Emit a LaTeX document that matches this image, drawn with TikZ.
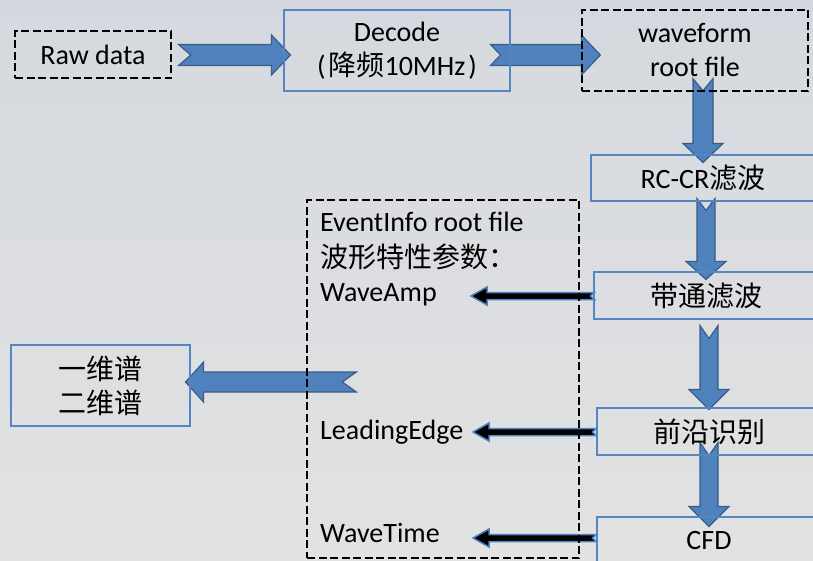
\documentclass[tikz,border=0pt]{standalone}
\usepackage{fontspec}
\setmainfont{Carlito}
\newfontfamily\cjk{Noto Sans CJK SC}
\usetikzlibrary{calc}
\pgfdeclarelayer{bg}
\pgfsetlayers{bg,main}

\definecolor{arrowfill}{RGB}{79,129,189}
\definecolor{arrowedge}{RGB}{56,93,138}
\definecolor{boxedge}{RGB}{84,134,196}
\definecolor{bgtop}{RGB}{213,217,223}
\definecolor{bgbot}{RGB}{226,226,226}

% block arrow with notched tail:
% #1 style, #2 tail, #3 tip, #4 shaft half-width, #5 head half-width, #6 head length, #7 notch depth
\newcommand\blockarrow[7]{%
  \coordinate (ba-h) at ($(#3)!#6!(#2)$);
  \filldraw[#1] ($(#2)!#4!90:(#3)$)
    -- ($(ba-h)!#4!90:(#3)$)
    -- ($(ba-h)!#5!90:(#3)$)
    -- (#3)
    -- ($(ba-h)!#5!-90:(#3)$)
    -- ($(ba-h)!#4!-90:(#3)$)
    -- ($(#2)!#4!-90:(#3)$)
    -- ($(#2)!#7!(#3)$)
    -- cycle;
}

\tikzset{
  txt/.style={font=\fontsize{28}{34}\selectfont, text=black, inner sep=0pt},
  flowbox/.style={txt, draw=boxedge, line width=1.1pt, align=center},
  dashbox/.style={txt, draw=black, line width=1.3pt, dash pattern=on 8pt off 3.5pt, align=center},
  bigarrow/.style={fill=arrowfill, draw=arrowedge, line width=1.2pt, line join=miter},
  thinarrow/.style={fill=black, draw=arrowfill, line width=1.5pt, line join=miter},
}

\begin{document}
\begin{tikzpicture}[x=1pt, y=-1pt]
  \useasboundingbox (0,0) rectangle (813,560);
  \clip (0,0) rectangle (813,560);

  % processing chain
  \node[dashbox, minimum width=156pt, minimum height=47pt] (raw) at (93,54.5) {Raw data};
  \node[flowbox, minimum width=226pt, minimum height=81pt] (decode) at (397,50.5)
    {Decode\\(\kern3pt{\cjk 降频}10MHz\kern3pt)};
  \node[dashbox, minimum width=226pt, minimum height=81pt] (wave) at (695,50.5)
    {waveform\\root file};
  \node[flowbox, minimum width=224pt, minimum height=46pt] (rccr) at (703,178) {RC-CR{\cjk 滤波}};
  \node[flowbox, minimum width=224pt, minimum height=47pt] (band) at (706,295.5) {\cjk 带通滤波};
  \node[flowbox, minimum width=224pt, minimum height=47pt] (lead) at (709,431.5) {\cjk 前沿识别};
  \node[flowbox, minimum width=224pt, minimum height=47pt] (cfd) at (709,540.5) {CFD};

  % output file and its contents
  \node[dashbox, minimum width=272pt, minimum height=358pt] (event) at (443,379) {};
  \node[txt, anchor=base west] (info1) at (320,231) {EventInfo root file};
  \node[txt, anchor=base west] (info2) at (320,267) {\cjk 波形特性参数：};
  \node[txt, anchor=base west] (amp) at (320,301) {WaveAmp};
  \node[txt, anchor=base west] (ledge) at (320,439) {LeadingEdge};
  \node[txt, anchor=base west] (wtime) at (320,542) {WaveTime};

  % spectra
  \node[flowbox, minimum width=179pt, minimum height=81pt] (spec) at (100.5,385.5)
    {\cjk 一维谱\\\cjk 二维谱};

  % arrow end points
  \coordinate (a1s) at ($(raw.east)+(7,0.5)$);
  \coordinate (a1e) at ($(decode.west |- a1s)+(7,0)$);
  \coordinate (a2s) at ($(decode.east |- a1s)+(-20,0)$);
  \coordinate (a2e) at ($(wave.west |- a1s)+(19,0)$);
  \coordinate (a3s) at ($(wave.south)+(8,-13)$);
  \coordinate (a3e) at ($(rccr.north -| a3s)+(0,8)$);
  \coordinate (a4s) at ($(rccr.south)+(3,-3)$);
  \coordinate (a4e) at ($(band.north -| a4s)+(0,8)$);
  \coordinate (a5s) at ($(band.south)+(3,6)$);
  \coordinate (a5e) at ($(lead.north -| a5s)+(0,2)$);
  \coordinate (a6s) at ($(lead.south)+(0,-13)$);
  \coordinate (a6e) at ($(cfd.north -| a6s)+(0,10)$);
  \coordinate (a7s) at ($(event.west)+(50,3)$);
  \coordinate (a7e) at ($(spec.east |- a7s)+(-5,0)$);

  \coordinate (tipcol) at (471,0);
  \coordinate (b1s) at ($(band.west)+(1,0.5)$);
  \coordinate (b1e) at (tipcol |- b1s);
  \coordinate (b2s) at ($(lead.west)+(0,0.5)$);
  \coordinate (b2e) at ($(tipcol |- b2s)+(2,0)$);
  \coordinate (b3s) at ($(cfd.west)+(0,-2.5)$);
  \coordinate (b3e) at ($(tipcol |- b3s)+(2,0)$);

  \begin{pgfonlayer}{bg}
    \shade[top color=bgtop, bottom color=bgbot] (0,0) rectangle (813,560);
    \blockarrow{bigarrow}{a1s}{a1e}{10.5pt}{20pt}{19pt}{12pt}
    \blockarrow{bigarrow}{a2s}{a2e}{10.5pt}{20pt}{19pt}{10pt}
    \blockarrow{bigarrow}{a3s}{a3e}{10pt}{20pt}{19pt}{12pt}
    \blockarrow{bigarrow}{a4s}{a4e}{9pt}{20pt}{18pt}{12pt}
    \blockarrow{bigarrow}{a5s}{a5e}{9pt}{20pt}{20pt}{13pt}
    \blockarrow{bigarrow}{a6s}{a6e}{9pt}{20pt}{20pt}{13pt}
    \blockarrow{bigarrow}{a7s}{a7e}{10pt}{20pt}{18pt}{14pt}
    \blockarrow{thinarrow}{b1s}{b1e}{3.5pt}{9pt}{16pt}{4pt}
    \blockarrow{thinarrow}{b2s}{b2e}{3.5pt}{9pt}{16pt}{4pt}
    \blockarrow{thinarrow}{b3s}{b3e}{3.5pt}{9pt}{16pt}{4pt}
  \end{pgfonlayer}
\end{tikzpicture}
\end{document}
